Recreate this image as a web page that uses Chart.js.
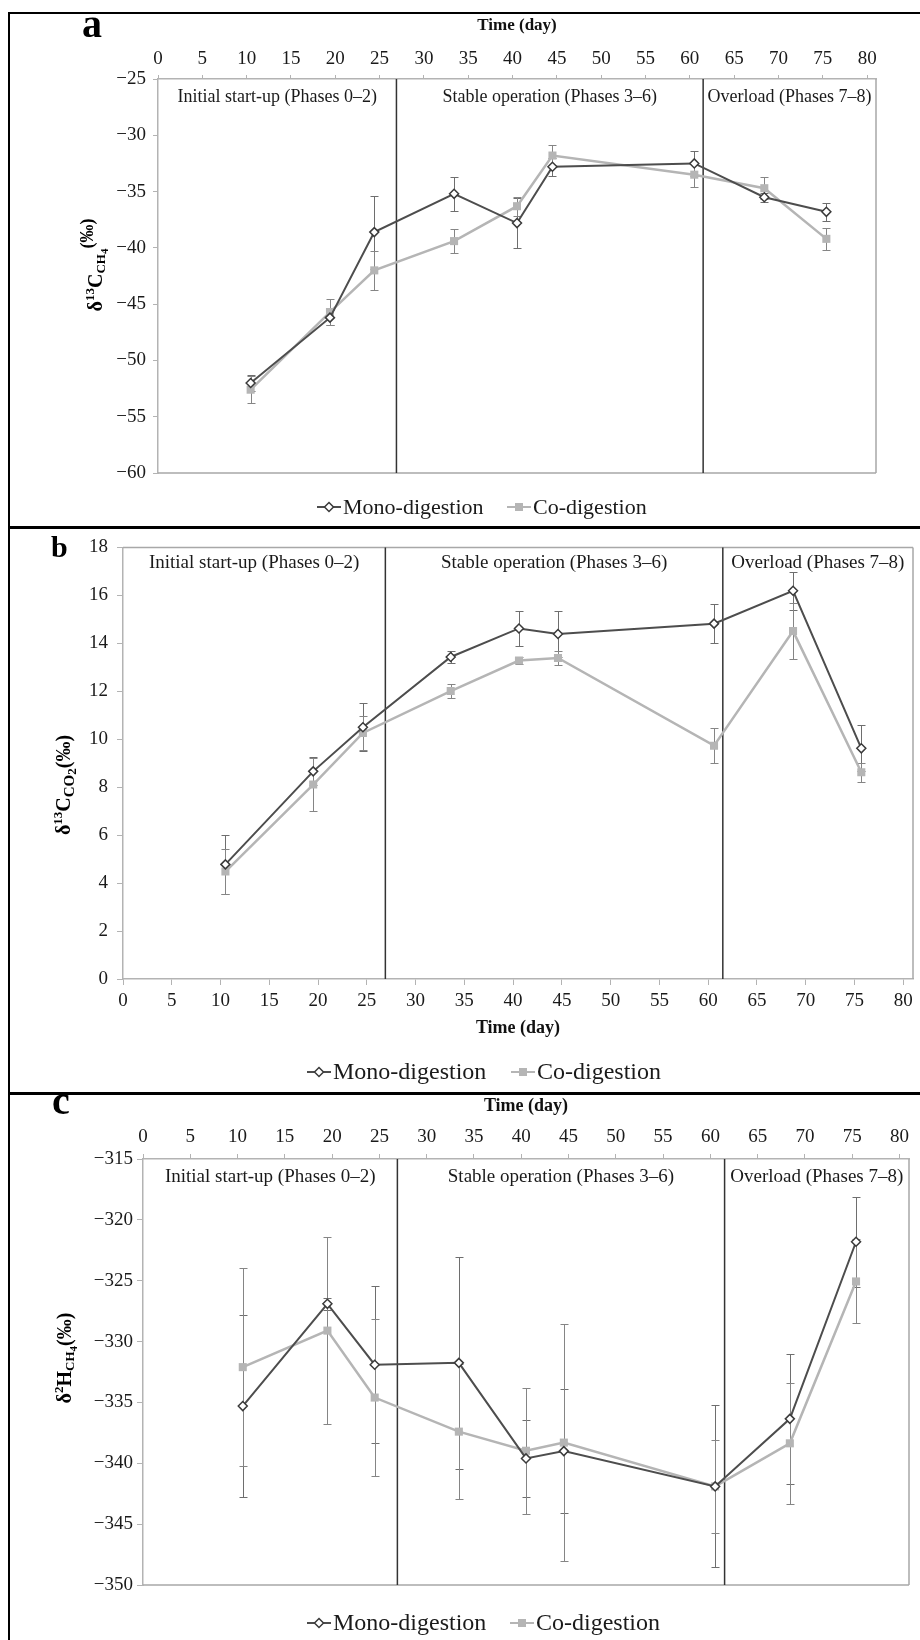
<!DOCTYPE html>
<html>
<head>
<meta charset="utf-8">
<script src="https://cdn.jsdelivr.net/npm/chart.js@4.4.1/dist/chart.umd.min.js"></script>
<style>
  body { margin: 0; background: #fff; }
  #page { position: relative; width: 920px; height: 1640px; overflow: hidden; background: #fff; }
  canvas { position: absolute; left: 0; }
  .rule { position: absolute; background: #000; }
</style>
</head>
<body>
<div id="page">
  <canvas id="chartA" width="920" height="527" style="top:0"></canvas>
  <canvas id="chartB" width="920" height="566" style="top:527px"></canvas>
  <canvas id="chartC" width="920" height="547" style="top:1093px"></canvas>
  <div class="rule" style="left:8px;top:12px;width:912px;height:2px"></div>
  <div class="rule" style="left:8px;top:12px;width:2px;height:1628px"></div>
  <div class="rule" style="left:8px;top:526px;width:912px;height:3px"></div>
  <div class="rule" style="left:8px;top:1092px;width:912px;height:3px"></div>
</div>
<script>
// shared axis values
const dayTicks = [0, 5, 10, 15, 20, 25, 30, 35, 40, 45, 50, 55, 60, 65, 70, 75, 80];
const phaseBounds = [26.9, 61.5];
const phaseNames = ['Initial start-up (Phases 0\u20132)', 'Stable operation (Phases 3\u20136)', 'Overload (Phases 7\u20138)'];
const seriesNames = ['Mono-digestion', 'Co-digestion'];

// a: δ13C of CH4
const daysA = [10.45, 19.4, 24.4, 33.4, 40.5, 44.5, 60.5, 68.4, 75.4];
const monoA = [-52.0, -46.2, -38.6, -35.2, -37.8, -32.8, -32.5, -35.5, -36.8];
const monoErrA = [0.7, 0.65, 3.25, 1.5, 2.2, 0.8, 1.1, 0.4, 0.8];
const coA = [-52.6, -45.7, -42.0, -39.4, -36.3, -31.8, -33.5, -34.7, -39.2];
const coErrA = [1.2, 1.15, 1.7, 1.1, 0.85, 0.9, 1.05, 1.0, 1.0];
const yTicksA = [-60, -55, -50, -45, -40, -35, -30, -25];

// b: δ13C of CO2
const daysB = [10.5, 19.5, 24.6, 33.6, 40.6, 44.6, 60.6, 68.7, 75.7];
const monoB = [4.78, 8.66, 10.5, 13.43, 14.62, 14.39, 14.82, 16.19, 9.62];
const monoErrB = [1.23, 0.58, 1.0, 0.27, 0.74, 0.95, 0.8, 0.8, 0.96];
const coB = [4.48, 8.11, 10.26, 12.01, 13.28, 13.39, 9.73, 14.51, 8.62];
const coErrB = [0.93, 1.09, 0.7, 0.3, 0.15, 0.3, 0.72, 1.16, 0.4];
const yTicksB = [0, 2, 4, 6, 8, 10, 12, 14, 16, 18];

// c: δ2H of CH4
const daysC = [10.55, 19.5, 24.5, 33.4, 40.5, 44.5, 60.5, 68.4, 75.4];
const monoC = [-335.3, -326.9, -331.9, -331.75, -339.6, -339.0, -341.9, -336.35, -321.8];
const monoErrC = [7.45, 0.5, 6.45, 8.7, 3.17, 5.08, 6.65, 5.36, 3.7];
const coC = [-332.1, -329.1, -334.6, -337.4, -338.97, -338.3, -341.9, -338.36, -325.06];
const coErrC = [8.13, 7.7, 6.43, 5.55, 5.17, 9.75, 3.85, 4.97, 3.45];
const yTicksC = [-350, -345, -340, -335, -330, -325, -320, -315];

const SERIF = '"Liberation Serif", "Times New Roman", serif';
const MONO_LINE = '#4d4d4d';
const MONO_EDGE = '#3a3a3a';
const CO_FILL = '#b5b5b5';
const AXIS = '#b3b3b3';
const INK = '#1a1a1a';
const TICK_SIZE = 19;

const fmtTick = v => (v < 0 ? '\u2212' + Math.abs(v) : String(v));
const snap = v => Math.round(v) + 0.5;

function diamond(ctx, cx, cy, r) {
    ctx.beginPath();
    ctx.moveTo(cx, cy - r);
    ctx.lineTo(cx + r, cy);
    ctx.lineTo(cx, cy + r);
    ctx.lineTo(cx - r, cy);
    ctx.closePath();
}

// frame, phase lines, error bars, phase captions, panel letter, y title and key
const panelDecor = {
    id: 'panelDecor',
    beforeDatasetsDraw(chart, args, o) {
        const {ctx, chartArea: area} = chart;
        const x = chart.scales.x, y = chart.scales.y;
        ctx.save();

        ctx.strokeStyle = '#a8a8a8';
        ctx.lineWidth = 1.5;
        ctx.beginPath();
        ctx.moveTo(area.right, area.top);
        ctx.lineTo(area.right, area.bottom);
        if (x.options.position === 'top') {
            ctx.moveTo(area.left, area.bottom);
            ctx.lineTo(area.right, area.bottom);
        } else {
            ctx.moveTo(area.left, area.top);
            ctx.lineTo(area.right, area.top);
        }
        ctx.stroke();

        ctx.strokeStyle = '#333';
        ctx.lineWidth = 1.5;
        phaseBounds.forEach(d => {
            const px = x.getPixelForValue(d);
            ctx.beginPath();
            ctx.moveTo(px, area.top);
            ctx.lineTo(px, area.bottom);
            ctx.stroke();
        });

        chart.data.datasets.forEach(ds => {
            ctx.strokeStyle = ds.errorColor;
            ctx.lineWidth = 1;
            ds.data.forEach((pt, i) => {
                const e = ds.errors[i];
                const px = snap(x.getPixelForValue(pt.x));
                const hi = snap(y.getPixelForValue(pt.y + e));
                const lo = snap(y.getPixelForValue(pt.y - e));
                ctx.beginPath();
                ctx.moveTo(px, hi); ctx.lineTo(px, lo);
                ctx.moveTo(px - 4, hi); ctx.lineTo(px + 4, hi);
                ctx.moveTo(px - 4, lo); ctx.lineTo(px + 4, lo);
                ctx.stroke();
            });
        });
        ctx.restore();
    },
    afterDraw(chart, args, o) {
        const {ctx, chartArea: area} = chart;
        const x = chart.scales.x;
        ctx.save();

        // phase captions, centred in each phase
        const edges = [area.left, ...phaseBounds.map(d => x.getPixelForValue(d)), area.right];
        ctx.fillStyle = INK;
        ctx.font = o.phaseSize + 'px ' + SERIF;
        ctx.textAlign = 'center';
        ctx.textBaseline = 'middle';
        phaseNames.forEach((name, i) => {
            ctx.fillText(name, (edges[i] + edges[i + 1]) / 2, area.top + o.phaseDy);
        });

        // panel letter
        ctx.fillStyle = '#000';
        ctx.font = 'bold ' + o.letter.size + 'px ' + SERIF;
        ctx.textAlign = 'left';
        ctx.textBaseline = 'alphabetic';
        ctx.fillText(o.letter.text, o.letter.x, o.letter.y);

        // rotated y title with super/subscripts
        ctx.save();
        ctx.translate(o.yTitle.x, o.yTitle.y);
        ctx.rotate(-Math.PI / 2);
        ctx.textAlign = 'left';
        ctx.textBaseline = 'middle';
        let total = 0;
        o.yTitle.parts.forEach(p => {
            ctx.font = 'bold ' + p.size + 'px ' + SERIF;
            total += ctx.measureText(p.t).width;
        });
        let cx = -total / 2;
        o.yTitle.parts.forEach(p => {
            ctx.font = 'bold ' + p.size + 'px ' + SERIF;
            ctx.fillText(p.t, cx, p.dy);
            cx += ctx.measureText(p.t).width;
        });
        ctx.restore();

        // key
        const k = o.key;
        chart.data.datasets.forEach((ds, i) => {
            const x0 = k.x[i];
            ctx.strokeStyle = ds.borderColor;
            ctx.lineWidth = 2;
            ctx.beginPath();
            ctx.moveTo(x0, k.y);
            ctx.lineTo(x0 + 24, k.y);
            ctx.stroke();
            if (ds.pointStyle === 'rectRot') {
                diamond(ctx, x0 + 12, k.y, 4.5);
                ctx.fillStyle = '#fff';
                ctx.fill();
                ctx.strokeStyle = MONO_EDGE;
                ctx.lineWidth = 1.5;
                ctx.stroke();
            } else {
                ctx.fillStyle = CO_FILL;
                ctx.fillRect(x0 + 8, k.y - 4, 8, 8);
            }
            ctx.fillStyle = INK;
            ctx.font = k.size + 'px ' + SERIF;
            ctx.textAlign = 'left';
            ctx.textBaseline = 'middle';
            ctx.fillText(ds.label, x0 + 26, k.y + 1);
        });
        ctx.restore();
    }
};

function makePanel(canvasID, p) {
    const ctx = document.getElementById(canvasID).getContext('2d');
    const pts = (ys) => p.days.map((d, i) => ({x: d, y: ys[i]}));
    return new Chart(ctx, {
        type: 'line',
        data: {
            datasets: [
                {
                    label: seriesNames[0],
                    data: pts(p.mono),
                    errors: p.monoErr,
                    errorColor: '#6e6e6e',
                    borderColor: MONO_LINE,
                    borderWidth: 2,
                    pointStyle: 'rectRot',
                    pointRadius: 4.5,
                    pointBackgroundColor: '#fff',
                    pointBorderColor: MONO_EDGE,
                    pointBorderWidth: 1.5,
                    tension: 0,
                },
                {
                    label: seriesNames[1],
                    data: pts(p.co),
                    errors: p.coErr,
                    errorColor: '#858585',
                    borderColor: CO_FILL,
                    borderWidth: 2.5,
                    pointStyle: 'rect',
                    pointRadius: 5.7,
                    pointBackgroundColor: CO_FILL,
                    pointBorderColor: CO_FILL,
                    pointBorderWidth: 0,
                    tension: 0,
                },
            ],
        },
        options: {
            responsive: false,
            animation: false,
            layout: {padding: p.padding},
            plugins: {
                legend: {display: false},
                tooltip: {enabled: false},
                panelDecor: p.decor,
            },
            scales: {
                x: {
                    type: 'linear',
                    position: p.xPos,
                    min: 0,
                    max: 81,
                    afterBuildTicks: s => { s.ticks = dayTicks.map(v => ({value: v})); },
                    afterFit: s => { s.height = p.xHeight; },
                    ticks: {font: {family: SERIF, size: TICK_SIZE}, color: INK, padding: p.xPad, maxRotation: 0, autoSkip: false},
                    grid: {drawOnChartArea: false, color: AXIS, tickLength: p.xTick},
                    border: {color: AXIS, width: 1.5},
                    title: {
                        display: true,
                        text: 'Time (day)',
                        color: '#111',
                        font: {family: SERIF, size: p.xTitleSize, weight: 'bold'},
                        padding: p.xTitlePad,
                    },
                },
                y: {
                    type: 'linear',
                    position: 'left',
                    min: p.yTicks[0],
                    max: p.yTicks[p.yTicks.length - 1],
                    afterBuildTicks: s => { s.ticks = p.yTicks.map(v => ({value: v})); },
                    afterFit: s => { s.width = p.yWidth; },
                    ticks: {font: {family: SERIF, size: TICK_SIZE}, color: INK, padding: p.yPad, callback: fmtTick},
                    grid: {drawOnChartArea: false, color: AXIS, tickLength: p.yTick},
                    border: {color: AXIS, width: 1.5},
                },
            },
        },
        plugins: [panelDecor],
    });
}

makePanel('chartA', {
    days: daysA, mono: monoA, monoErr: monoErrA, co: coA, coErr: coErrA, yTicks: yTicksA,
    xPos: 'top', xHeight: 79, xPad: 5, xTick: 4, xTitleSize: 17, xTitlePad: {top: 15, bottom: 0},
    yWidth: 158, yPad: 7, yTick: 5,
    padding: {left: 0, top: 0, right: 44, bottom: 54},
    decor: {
        phaseSize: 18, phaseDy: 18,
        letter: {text: 'a', size: 40, x: 82, y: 37},
        yTitle: {x: 97, y: 265, parts: [
            {t: '\u03b4', size: 20, dy: 0}, {t: '13', size: 13, dy: -6}, {t: 'C', size: 20, dy: 0},
            {t: 'CH', size: 13, dy: 5}, {t: '4', size: 11, dy: 8}, {t: '(\u2030)', size: 18, dy: -9}]},
        key: {y: 507, size: 22, x: [317, 507]},
    },
});

makePanel('chartB', {
    days: daysB, mono: monoB, monoErr: monoErrB, co: coB, coErr: coErrB, yTicks: yTicksB,
    xPos: 'bottom', xHeight: 60, xPad: 5, xTick: 6, xTitleSize: 18, xTitlePad: {top: 0, bottom: 0},
    yWidth: 123, yPad: 9, yTick: 6,
    padding: {left: 0, top: 14, right: 7, bottom: 54},
    decor: {
        phaseSize: 19, phaseDy: 16,
        letter: {text: 'b', size: 30, x: 51, y: 30},
        yTitle: {x: 65, y: 258, parts: [
            {t: '\u03b4', size: 20, dy: 0}, {t: '13', size: 13, dy: -6}, {t: 'C', size: 20, dy: 0},
            {t: 'CO', size: 15, dy: 5}, {t: '2', size: 13, dy: 8}, {t: '(\u2030)', size: 20, dy: 0}]},
        key: {y: 545, size: 24, x: [307, 511]},
    },
});

makePanel('chartC', {
    days: daysC, mono: monoC, monoErr: monoErrC, co: coC, coErr: coErrC, yTicks: yTicksC,
    xPos: 'top', xHeight: 66, xPad: 6, xTick: 5, xTitleSize: 18, xTitlePad: {top: 3, bottom: 0},
    yWidth: 143, yPad: 4, yTick: 6,
    padding: {left: 0, top: 0, right: 11, bottom: 55},
    decor: {
        phaseSize: 19, phaseDy: 18,
        letter: {text: 'c', size: 40, x: 52, y: 21},
        yTitle: {x: 66, y: 265, parts: [
            {t: '\u03b4', size: 20, dy: 0}, {t: '2', size: 13, dy: -6}, {t: 'H', size: 20, dy: 0},
            {t: 'CH', size: 13, dy: 5}, {t: '4', size: 11, dy: 8}, {t: '(\u2030)', size: 20, dy: 0}]},
        key: {y: 530, size: 24, x: [307, 510]},
    },
});
</script>
</body>
</html>
